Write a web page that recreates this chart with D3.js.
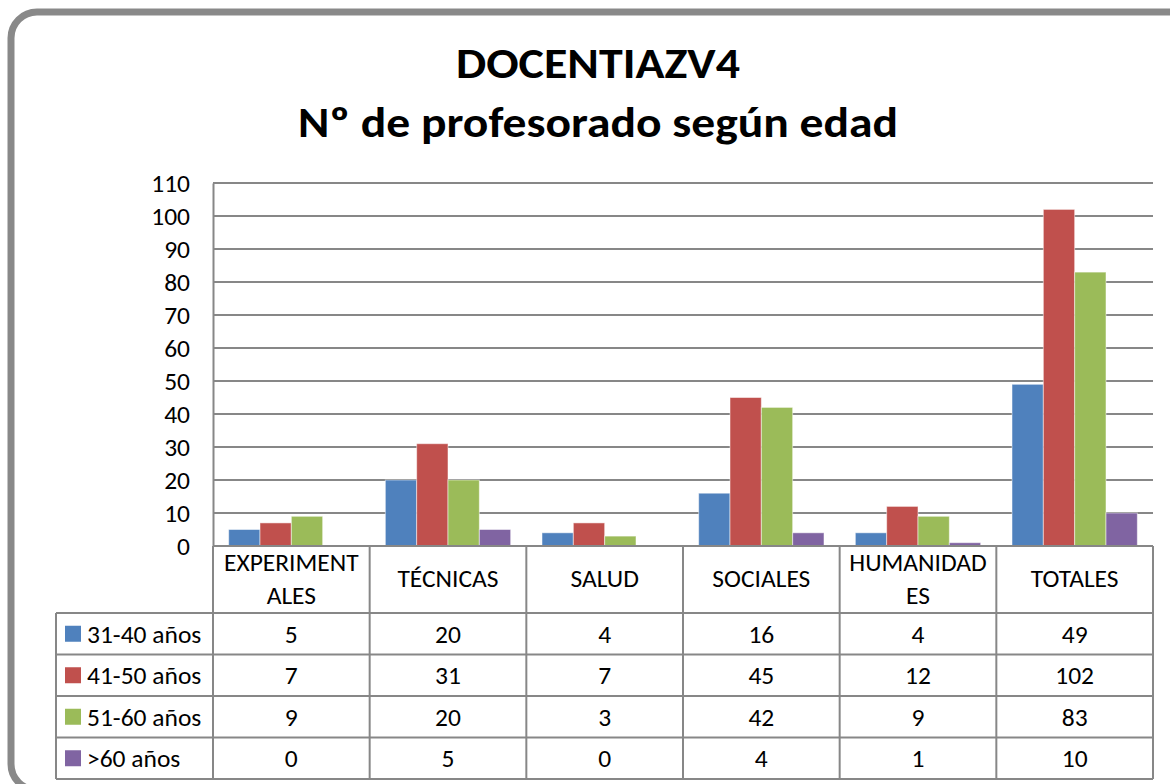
<!DOCTYPE html>
<html>
<head>
<meta charset="utf-8">
<script src="https://cdn.jsdelivr.net/npm/d3@7"></script>
<style>
  html, body { margin: 0; padding: 0; background: #fff; }
  svg { display: block; }
  text { font-family: Carlito, Calibri, Lato, "Open Sans", sans-serif; fill: #000; }
</style>
</head>
<body>
<svg id="chart" width="1170" height="784"></svg>
<script>
// ---- data ----
const titleLines = ["DOCENTIAZV4", "Nº de profesorado según edad"];
const categories = ["EXPERIMENTALES", "TÉCNICAS", "SALUD", "SOCIALES", "HUMANIDADES", "TOTALES"];
const categoryLabelLines = [["EXPERIMENT", "ALES"], ["TÉCNICAS"], ["SALUD"], ["SOCIALES"], ["HUMANIDAD", "ES"], ["TOTALES"]];
const seriesNames = ["31-40 años", "41-50 años", "51-60 años", ">60 años"];
const s31_40 = [5, 20, 4, 16, 4, 49];
const s41_50 = [7, 31, 7, 45, 12, 102];
const s51_60 = [9, 20, 3, 42, 9, 83];
const s60plus = [0, 5, 0, 4, 1, 10];
const seriesValues = [s31_40, s41_50, s51_60, s60plus];
const seriesColors = ["#4F81BD", "#C0504D", "#9BBB59", "#8064A2"];
const yTicks = [0, 10, 20, 30, 40, 50, 60, 70, 80, 90, 100, 110];

// ---- layout ----
const svg = d3.select("#chart");
const plot = { left: 213, right: 1153, top: 183, bottom: 546 };
const table = { left: 56, headerBottom: 613, rowH: 41.5 };
const gridColor = "#878787";
const fs = 25.5;

// frame
svg.append("rect")
  .attr("x", 11).attr("y", 12)
  .attr("width", 1190).attr("height", 778)
  .attr("rx", 26).attr("ry", 26)
  .attr("fill", "#fff")
  .attr("stroke", "#898989").attr("stroke-width", 7);

// title
const titleW = [284, 600];
titleLines.forEach((t, i) => {
  svg.append("text")
    .attr("x", 598).attr("y", [78, 137][i])
    .attr("text-anchor", "middle")
    .attr("font-weight", "bold")
    .attr("font-size", 43)
    .attr("textLength", titleW[i])
    .attr("lengthAdjust", "spacingAndGlyphs")
    .text(t);
});

// scales
const y = d3.scaleLinear().domain([0, 110]).range([plot.bottom, plot.top]);
const x0 = d3.scaleBand().domain(categories).range([plot.left, plot.right]).paddingInner(0).paddingOuter(0);
const x1 = d3.scaleBand().domain(seriesNames).range([0, x0.bandwidth()]).paddingOuter(0.5).paddingInner(0);

// gridlines
svg.append("g").selectAll("line").data(yTicks.filter(d => d > 0)).join("line")
  .attr("x1", plot.left).attr("x2", plot.right)
  .attr("y1", d => y(d)).attr("y2", d => y(d))
  .attr("stroke", gridColor).attr("stroke-width", 2);

// y axis
const yAxis = d3.axisLeft(y).tickValues(yTicks).tickSize(0).tickPadding(23);
const yg = svg.append("g").attr("transform", `translate(${plot.left},0)`).call(yAxis);
yg.select(".domain").attr("stroke", gridColor).attr("stroke-width", 2);
yg.selectAll("text").attr("font-size", fs).attr("font-family", "Carlito, Calibri, Lato, sans-serif").attr("fill", "#000");

// bars
const groups = svg.append("g").selectAll("g").data(categories).join("g")
  .attr("transform", d => `translate(${x0(d)},0)`);
groups.selectAll("rect")
  .data((c, ci) => seriesNames.map((s, si) => ({ s, si, v: seriesValues[si][ci] })))
  .join("rect")
  .attr("x", d => x1(d.s))
  .attr("width", x1.bandwidth())
  .attr("y", d => y(d.v))
  .attr("height", d => y(0) - y(d.v))
  .attr("fill", d => seriesColors[d.si])
  .attr("stroke", "rgba(255,255,255,0.5)")
  .attr("stroke-width", 1);

// data table
const tg = svg.append("g");
const rowY = i => table.headerBottom + i * table.rowH;
const tableBottom = rowY(seriesNames.length);
tg.append("line").attr("x1", plot.left).attr("x2", plot.right).attr("y1", plot.bottom).attr("y2", plot.bottom)
  .attr("stroke", gridColor).attr("stroke-width", 2);
d3.range(seriesNames.length + 1).forEach(i => {
  tg.append("line").attr("x1", table.left).attr("x2", plot.right)
    .attr("y1", rowY(i)).attr("y2", rowY(i))
    .attr("stroke", gridColor).attr("stroke-width", 2);
});
const colEdges = categories.map(c => x0(c)).concat([plot.right]);
colEdges.forEach(xx => {
  tg.append("line").attr("x1", xx).attr("x2", xx).attr("y1", plot.bottom).attr("y2", tableBottom)
    .attr("stroke", gridColor).attr("stroke-width", 2);
});
tg.append("line").attr("x1", table.left).attr("x2", table.left).attr("y1", table.headerBottom).attr("y2", tableBottom)
  .attr("stroke", gridColor).attr("stroke-width", 2);

// header labels
categories.forEach((c, ci) => {
  const lines = categoryLabelLines[ci];
  const cx = x0(c) + x0.bandwidth() / 2;
  const ys = lines.length === 2 ? [571, 604] : [587];
  lines.forEach((l, li) => {
    tg.append("text").attr("x", cx).attr("y", ys[li])
      .attr("text-anchor", "middle").attr("font-size", fs).text(l);
  });
});

// rows
seriesNames.forEach((s, si) => {
  const cy = rowY(si) + table.rowH / 2;
  tg.append("rect").attr("x", 65).attr("y", cy - 8).attr("width", 16).attr("height", 16)
    .attr("fill", seriesColors[si]);
  tg.append("text").attr("x", 87).attr("y", cy).attr("dy", "0.35em")
    .attr("font-size", fs).text(s);
  categories.forEach((c, ci) => {
    tg.append("text").attr("x", x0(c) + x0.bandwidth() / 2).attr("y", cy).attr("dy", "0.35em")
      .attr("text-anchor", "middle").attr("font-size", fs).text(seriesValues[si][ci]);
  });
});
</script>
</body>
</html>
